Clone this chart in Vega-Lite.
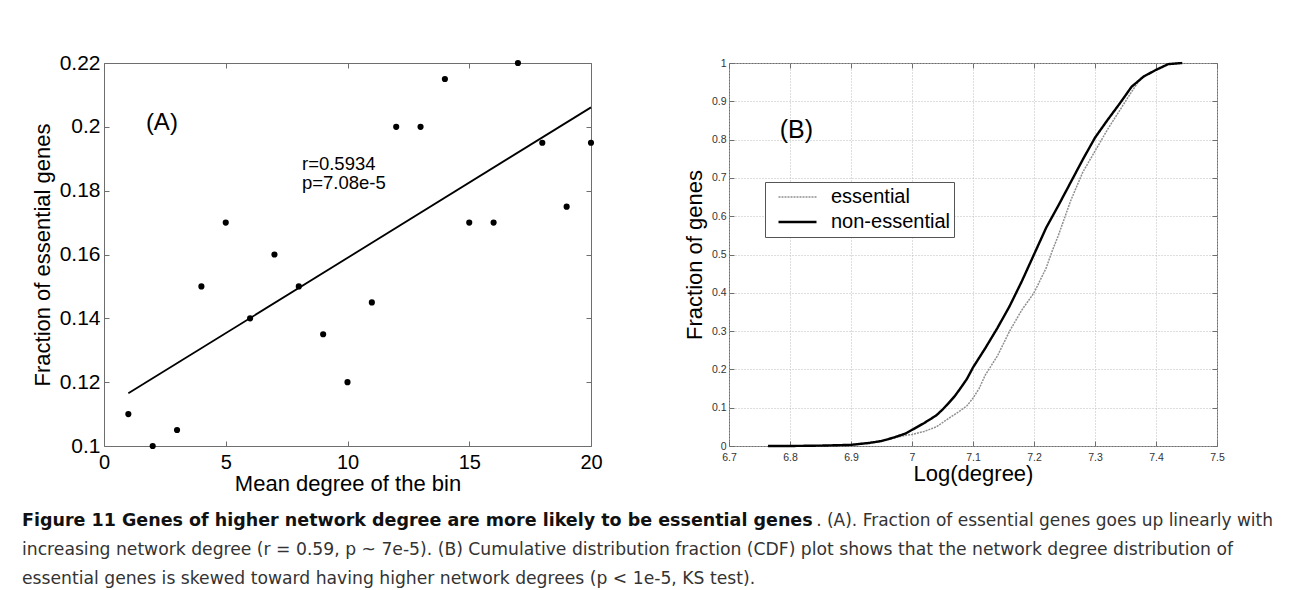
{
  "$schema": "https://vega.github.io/schema/vega-lite/v6.json",
  "background": "white",
  "padding": {"left": 22, "top": 51, "right": 5, "bottom": 0},
  "spacing": 11,
  "config": {
    "font": "Liberation Sans",
    "view": {"stroke": "#6e6e6e", "strokeWidth": 1}
  },
  "datasets": {
    "bins": [
      {"deg": 1, "frac": 0.110}, {"deg": 2, "frac": 0.100}, {"deg": 3, "frac": 0.105}, {"deg": 4, "frac": 0.150},
      {"deg": 5, "frac": 0.170}, {"deg": 6, "frac": 0.140}, {"deg": 7, "frac": 0.160}, {"deg": 8, "frac": 0.150},
      {"deg": 9, "frac": 0.135}, {"deg": 10, "frac": 0.120}, {"deg": 11, "frac": 0.145}, {"deg": 12, "frac": 0.200},
      {"deg": 13, "frac": 0.200}, {"deg": 14, "frac": 0.215}, {"deg": 15, "frac": 0.170}, {"deg": 16, "frac": 0.170},
      {"deg": 17, "frac": 0.220}, {"deg": 18, "frac": 0.195}, {"deg": 19, "frac": 0.175}, {"deg": 20, "frac": 0.195}
    ],
    "fit": [{"deg": 1, "frac": 0.1165}, {"deg": 20, "frac": 0.2061}],
    "panelA": [{"deg": 1.72, "frac": 0.2012, "label": "(A)"}],
    "stats": [
      {"deg": 8.13, "frac": 0.1883, "label": "r=0.5934"},
      {"deg": 8.13, "frac": 0.1824, "label": "p=7.08e-5"}
    ],
    "panelB": [{"logdeg": 6.783, "cum": 0.824, "label": "(B)"}],
    "cdf": [
      {"group": "essential", "logdeg": 6.764, "cum": 0.0},
      {"group": "essential", "logdeg": 6.85, "cum": 0.001},
      {"group": "essential", "logdeg": 6.90, "cum": 0.003},
      {"group": "essential", "logdeg": 6.95, "cum": 0.013},
      {"group": "essential", "logdeg": 6.97, "cum": 0.021},
      {"group": "essential", "logdeg": 6.99, "cum": 0.028},
      {"group": "essential", "logdeg": 7.00, "cum": 0.030},
      {"group": "essential", "logdeg": 7.02, "cum": 0.038},
      {"group": "essential", "logdeg": 7.04, "cum": 0.050},
      {"group": "essential", "logdeg": 7.06, "cum": 0.072},
      {"group": "essential", "logdeg": 7.08, "cum": 0.093},
      {"group": "essential", "logdeg": 7.09, "cum": 0.105},
      {"group": "essential", "logdeg": 7.10, "cum": 0.125},
      {"group": "essential", "logdeg": 7.11, "cum": 0.150},
      {"group": "essential", "logdeg": 7.12, "cum": 0.185},
      {"group": "essential", "logdeg": 7.14, "cum": 0.235},
      {"group": "essential", "logdeg": 7.16, "cum": 0.300},
      {"group": "essential", "logdeg": 7.18, "cum": 0.355},
      {"group": "essential", "logdeg": 7.20, "cum": 0.400},
      {"group": "essential", "logdeg": 7.22, "cum": 0.465},
      {"group": "essential", "logdeg": 7.23, "cum": 0.510},
      {"group": "essential", "logdeg": 7.24, "cum": 0.550},
      {"group": "essential", "logdeg": 7.26, "cum": 0.640},
      {"group": "essential", "logdeg": 7.28, "cum": 0.715},
      {"group": "essential", "logdeg": 7.30, "cum": 0.770},
      {"group": "essential", "logdeg": 7.32, "cum": 0.825},
      {"group": "essential", "logdeg": 7.34, "cum": 0.875},
      {"group": "essential", "logdeg": 7.36, "cum": 0.925},
      {"group": "essential", "logdeg": 7.375, "cum": 0.960},
      {"group": "essential", "logdeg": 7.40, "cum": 0.982},
      {"group": "essential", "logdeg": 7.42, "cum": 0.997},
      {"group": "essential", "logdeg": 7.443, "cum": 1.0},
      {"group": "non-essential", "logdeg": 6.764, "cum": 0.0},
      {"group": "non-essential", "logdeg": 6.80, "cum": 0.0},
      {"group": "non-essential", "logdeg": 6.85, "cum": 0.001},
      {"group": "non-essential", "logdeg": 6.90, "cum": 0.003},
      {"group": "non-essential", "logdeg": 6.93, "cum": 0.008},
      {"group": "non-essential", "logdeg": 6.95, "cum": 0.013},
      {"group": "non-essential", "logdeg": 6.97, "cum": 0.022},
      {"group": "non-essential", "logdeg": 6.99, "cum": 0.033},
      {"group": "non-essential", "logdeg": 7.00, "cum": 0.042},
      {"group": "non-essential", "logdeg": 7.02, "cum": 0.060},
      {"group": "non-essential", "logdeg": 7.04, "cum": 0.080},
      {"group": "non-essential", "logdeg": 7.05, "cum": 0.095},
      {"group": "non-essential", "logdeg": 7.06, "cum": 0.112},
      {"group": "non-essential", "logdeg": 7.07, "cum": 0.130},
      {"group": "non-essential", "logdeg": 7.08, "cum": 0.152},
      {"group": "non-essential", "logdeg": 7.09, "cum": 0.175},
      {"group": "non-essential", "logdeg": 7.10, "cum": 0.205},
      {"group": "non-essential", "logdeg": 7.12, "cum": 0.255},
      {"group": "non-essential", "logdeg": 7.14, "cum": 0.308},
      {"group": "non-essential", "logdeg": 7.16, "cum": 0.365},
      {"group": "non-essential", "logdeg": 7.18, "cum": 0.430},
      {"group": "non-essential", "logdeg": 7.20, "cum": 0.500},
      {"group": "non-essential", "logdeg": 7.22, "cum": 0.570},
      {"group": "non-essential", "logdeg": 7.24, "cum": 0.628},
      {"group": "non-essential", "logdeg": 7.26, "cum": 0.688},
      {"group": "non-essential", "logdeg": 7.28, "cum": 0.748},
      {"group": "non-essential", "logdeg": 7.30, "cum": 0.805},
      {"group": "non-essential", "logdeg": 7.32, "cum": 0.850},
      {"group": "non-essential", "logdeg": 7.34, "cum": 0.893},
      {"group": "non-essential", "logdeg": 7.36, "cum": 0.938},
      {"group": "non-essential", "logdeg": 7.38, "cum": 0.965},
      {"group": "non-essential", "logdeg": 7.40, "cum": 0.982},
      {"group": "non-essential", "logdeg": 7.42, "cum": 0.997},
      {"group": "non-essential", "logdeg": 7.443, "cum": 1.0}
    ],
    "caption": [
      {"line": 1, "part": "head", "text": "Figure 11 Genes of higher network degree are more likely to be essential genes"},
      {"line": 1, "part": "tail", "text": ". (A). Fraction of essential genes goes up linearly with"},
      {"line": 2, "part": "body", "text": "increasing network degree (r = 0.59, p ~ 7e-5). (B) Cumulative distribution fraction (CDF) plot shows that the network degree distribution of"},
      {"line": 3, "part": "body", "text": "essential genes is skewed toward having higher network degrees (p < 1e-5, KS test)."}
    ]
  },
  "vconcat": [
    {
      "spacing": 79,
      "hconcat": [
        {
          "width": 487,
          "height": 383,
          "resolve": {"axis": {"x": "independent", "y": "independent"}},
          "layer": [
            {
              "data": {"name": "bins"},
              "mark": {"type": "circle", "size": 38, "color": "black", "opacity": 1},
              "encoding": {
                "x": {"field": "deg", "type": "quantitative", "scale": {"domain": [0, 20], "nice": false},
                  "axis": {"orient": "bottom", "values": [0, 5, 10, 15, 20], "title": "Mean degree of the bin",
                    "grid": false, "domain": false, "tickSize": -5, "tickColor": "#6e6e6e", "labelPadding": 11,
                    "labelFontSize": 20, "labelColor": "black", "titleFontSize": 22, "titleFontWeight": "normal",
                    "titleColor": "black", "titlePadding": 1, "labelFlush": false}},
                "y": {"field": "frac", "type": "quantitative", "scale": {"domain": [0.1, 0.22], "nice": false, "zero": false},
                  "axis": {"orient": "left", "values": [0.1, 0.12, 0.14, 0.16, 0.18, 0.2, 0.22], "format": ".2~f",
                    "title": "Fraction of essential genes", "grid": false, "domain": false, "tickSize": -5,
                    "tickColor": "#6e6e6e", "labelPadding": 9, "labelFontSize": 21, "labelColor": "black",
                    "titleFontSize": 22, "titleFontWeight": "normal", "titleColor": "black", "titlePadding": 5, "labelFlush": false}}
              }
            },
            {
              "data": {"name": "fit"},
              "mark": {"type": "line", "color": "black", "strokeWidth": 1.8},
              "encoding": {
                "x": {"field": "deg", "type": "quantitative", "axis": null},
                "y": {"field": "frac", "type": "quantitative", "axis": null}
              }
            },
            {
              "data": {"name": "panelA"},
              "mark": {"type": "text", "align": "left", "baseline": "middle", "fontSize": 24, "color": "black"},
              "encoding": {
                "x": {"field": "deg", "type": "quantitative",
                  "axis": {"orient": "top", "values": [0, 5, 10, 15, 20], "labels": false, "title": null, "grid": false,
                    "domain": false, "tickSize": -5, "tickColor": "#6e6e6e"}},
                "y": {"field": "frac", "type": "quantitative",
                  "axis": {"orient": "right", "values": [0.1, 0.12, 0.14, 0.16, 0.18, 0.2, 0.22], "labels": false,
                    "title": null, "grid": false, "domain": false, "tickSize": -5, "tickColor": "#6e6e6e"}},
                "text": {"field": "label"}
              }
            },
            {
              "data": {"name": "stats"},
              "mark": {"type": "text", "align": "left", "baseline": "middle", "fontSize": 18.5, "color": "black"},
              "encoding": {
                "x": {"field": "deg", "type": "quantitative", "axis": null},
                "y": {"field": "frac", "type": "quantitative", "axis": null},
                "text": {"field": "label"}
              }
            }
          ]
        },
        {
          "width": 488,
          "height": 383,
          "resolve": {"axis": {"x": "independent", "y": "independent"}},
          "layer": [
            {
              "data": {"name": "cdf"},
              "mark": {"type": "line"},
              "encoding": {
                "x": {"field": "logdeg", "type": "quantitative", "scale": {"domain": [6.7, 7.5], "nice": false, "zero": false},
                  "axis": {"orient": "bottom", "values": [6.7, 6.8, 6.9, 7, 7.1, 7.2, 7.3, 7.4, 7.5], "format": ".1~f",
                    "title": "Log(degree)", "grid": true, "gridDash": [1, 2], "gridColor": "#bdbdbd", "domain": false,
                    "tickSize": -5, "tickColor": "#6e6e6e", "labelPadding": 11, "labelFontSize": 10.5, "labelColor": "#333",
                    "titleFontSize": 22, "titleFontWeight": "normal", "titleColor": "black", "titlePadding": 1, "labelFlush": false}},
                "y": {"field": "cum", "type": "quantitative", "scale": {"domain": [0, 1], "nice": false},
                  "axis": {"orient": "left", "values": [0, 0.1, 0.2, 0.3, 0.4, 0.5, 0.6, 0.7, 0.8, 0.9, 1], "format": ".1~f",
                    "title": "Fraction of genes", "grid": true, "gridDash": [1, 2], "gridColor": "#bdbdbd", "domain": false,
                    "tickSize": -5, "tickColor": "#6e6e6e", "labelPadding": 8, "labelFontSize": 10.5, "labelColor": "#333",
                    "titleFontSize": 22, "titleFontWeight": "normal", "titleColor": "black", "titlePadding": 5, "labelFlush": false}},
                "color": {"field": "group", "type": "nominal",
                  "scale": {"domain": ["essential", "non-essential"], "range": ["#8f8f8f", "black"]},
                  "legend": {"orient": "none", "legendX": 661, "legendY": 119, "title": null, "symbolType": "stroke",
                    "symbolSize": 1444, "clipHeight": 22, "labelFontSize": 20, "labelColor": "black", "labelFont": "Liberation Sans",
                    "strokeColor": "#555", "fillColor": "white", "padding": 4, "rowPadding": 3, "labelOffset": 13,
                    "symbolOffset": 8, "symbolStrokeWidth": 2}},
                "strokeDash": {"field": "group", "type": "nominal",
                  "scale": {"domain": ["essential", "non-essential"], "range": [[2, 1], [1, 0]]}},
                "strokeWidth": {"field": "group", "type": "nominal",
                  "scale": {"domain": ["essential", "non-essential"], "range": [1.5, 2.4]}}
              }
            },
            {
              "data": {"name": "panelB"},
              "mark": {"type": "text", "align": "left", "baseline": "middle", "fontSize": 25, "color": "black"},
              "encoding": {
                "x": {"field": "logdeg", "type": "quantitative",
                  "axis": {"orient": "top", "values": [6.7, 6.8, 6.9, 7, 7.1, 7.2, 7.3, 7.4, 7.5], "labels": false,
                    "title": null, "grid": false, "domain": false, "tickSize": -5, "tickColor": "#6e6e6e"}},
                "y": {"field": "cum", "type": "quantitative",
                  "axis": {"orient": "right", "values": [0, 0.1, 0.2, 0.3, 0.4, 0.5, 0.6, 0.7, 0.8, 0.9, 1], "labels": false,
                    "title": null, "grid": false, "domain": false, "tickSize": -5, "tickColor": "#6e6e6e"}},
                "text": {"field": "label"}
              }
            }
          ]
        }
      ]
    },
    {
      "width": 1169,
      "height": 87,
      "data": {"name": "caption"},
      "view": {"stroke": null},
      "encoding": {
        "y": {"field": "line", "type": "ordinal", "scale": {"type": "point", "padding": 0.5, "domain": [1, 2, 3]}, "axis": null},
        "text": {"field": "text"}
      },
      "layer": [
        {
          "transform": [{"filter": "datum.part === 'head'"}],
          "mark": {"type": "text", "align": "left", "baseline": "middle", "dx": -82, "font": "DejaVu Sans", "fontSize": 17.5, "fontWeight": "bold", "color": "#111"},
          "encoding": {"x": {"value": 0}}
        },
        {
          "transform": [{"filter": "datum.part === 'tail'"}],
          "mark": {"type": "text", "align": "right", "baseline": "middle", "font": "DejaVu Sans", "fontSize": 17, "color": "#333"},
          "encoding": {"x": {"value": "width"}}
        },
        {
          "transform": [{"filter": "datum.part === 'body'"}],
          "mark": {"type": "text", "align": "left", "baseline": "middle", "dx": -82, "font": "DejaVu Sans", "fontSize": 17.2, "color": "#333"},
          "encoding": {"x": {"value": 0}}
        }
      ]
    }
  ]
}
